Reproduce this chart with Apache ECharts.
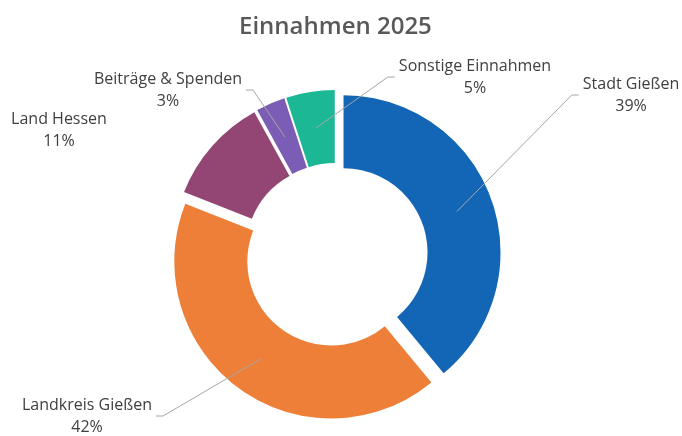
<!DOCTYPE html>
<html>
<head>
<meta charset="utf-8">
<script src="https://cdn.jsdelivr.net/npm/echarts@6/dist/echarts.min.js"></script>
<style>
html,body{margin:0;padding:0;background:#fff;}
#c{width:682px;height:436px;}
</style>
</head>
<body>
<div id="c"></div>
<script>
const categories = ['Stadt Gießen', 'Landkreis Gießen', 'Land Hessen', 'Beiträge & Spenden', 'Sonstige Einnahmen'];
const values = [39, 42, 11, 3, 5];
const colors = ['#1366b5', '#ee7f38', '#934673', '#7b5db6', '#1cb895'];
const labelPos = [[631, 95], [87, 416], [59, 130], [168, 90], [475, 77]];
const showLine = [true, true, false, true, true];
const CX = 336, CY = 255, R0 = 84, R1 = 157, OFFSET = 8;
const FONT = 16, FONT_FAMILY = 'Open Sans';

const chart = echarts.init(document.getElementById('c'), null, {renderer: 'canvas'});
const total = values.reduce((a, b) => a + b, 0);

const mctx = document.createElement('canvas').getContext('2d');
mctx.font = FONT + 'px "' + FONT_FAMILY + '"';
function labelWidth(i) {
  return Math.max(mctx.measureText(categories[i]).width, mctx.measureText(values[i] + '%').width);
}

function makeLayout(i) {
  return function () {
    return {x: labelPos[i][0], y: labelPos[i][1], align: 'center', verticalAlign: 'middle'};
  };
}

let cum = 0;
const series = [];
const graphics = [];
categories.forEach((name, i) => {
  const before = cum, v = values[i];
  cum += v;
  const after = total - cum;
  const theta = 2 * Math.PI * (before + v / 2) / total;
  const cx = CX + OFFSET * Math.sin(theta), cy = CY - OFFSET * Math.cos(theta);
  const blank = {itemStyle: {color: 'rgba(0,0,0,0)'}, label: {show: false}, labelLine: {show: false}};
  const data = [];
  if (before > 0) data.push(Object.assign({name: '_b', value: before}, blank));
  data.push({name: name, value: v, itemStyle: {color: colors[i]}});
  if (after > 0) data.push(Object.assign({name: '_a', value: after}, blank));
  series.push({
    type: 'pie',
    center: [cx, cy],
    radius: [R0, R1],
    startAngle: 90,
    clockwise: true,
    silent: true,
    avoidLabelOverlap: false,
    emphasis: {disabled: true},
    itemStyle: {borderWidth: 0},
    label: {
      show: true,
      position: 'outside',
      formatter: '{b}\n{c}%',
      fontFamily: FONT_FAMILY,
      fontSize: FONT,
      lineHeight: 22,
      color: '#404040',
      align: 'center'
    },
    labelLine: {show: true, lineStyle: {opacity: 0, width: 0}},
    labelLayout: makeLayout(i),
    data: data
  });
  if (showLine[i]) {
    const rm = (R0 + R1) / 2;
    const sx = cx + rm * Math.sin(theta), sy = cy - rm * Math.cos(theta);
    const lx = labelPos[i][0], ly = labelPos[i][1];
    const w = labelWidth(i);
    const right = lx > CX;
    const ex = right ? lx - w / 2 - 4 : lx + w / 2 + 4;
    graphics.push({
      type: 'polyline',
      z: 100,
      silent: true,
      shape: {points: [[sx, sy], [ex + (right ? -7 : 7), ly], [ex, ly]]},
      style: {stroke: '#a6a6a6', lineWidth: 1, fill: null}
    });
  }
});

chart.setOption({
  backgroundColor: '#fff',
  animation: false,
  title: {
    text: 'Einnahmen 2025',
    left: 234,
    top: 10,
    textStyle: {fontFamily: FONT_FAMILY, fontSize: 24, fontWeight: 600, color: '#595959'}
  },
  graphic: graphics,
  series: series
});
</script>
</body>
</html>
